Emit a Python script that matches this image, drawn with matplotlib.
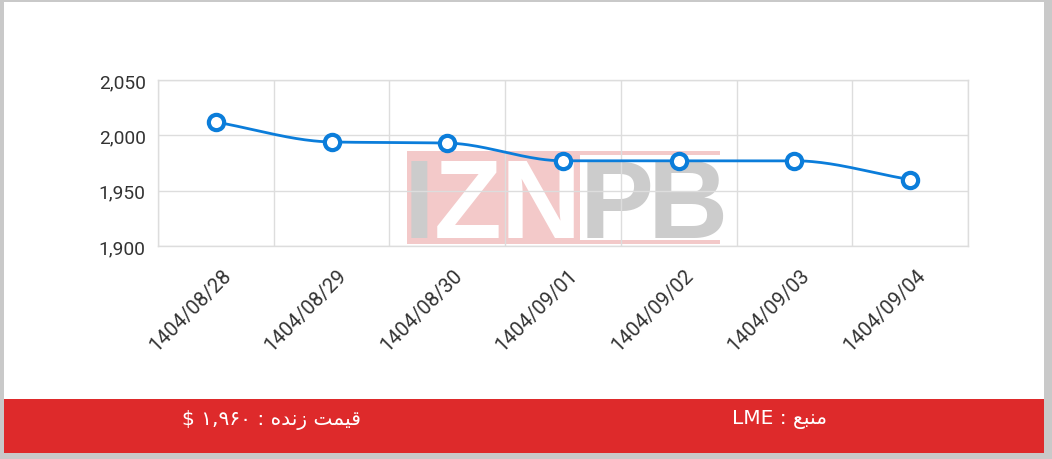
import numpy as np
import matplotlib
matplotlib.use("Agg")
import matplotlib.pyplot as plt
from matplotlib.patches import Rectangle
from matplotlib.transforms import ScaledTranslation

# ---- data ----
dates = ["1404/08/28", "1404/08/29", "1404/08/30", "1404/09/01",
         "1404/09/02", "1404/09/03", "1404/09/04"]
prices = [2012, 1994, 1993, 1977, 1977, 1977, 1960]
y_ticks = [1900, 1950, 2000, 2050]
source_text = "LME : \uFECA\uFE92\uFEE8\uFEE3"                      # منبع : LME
live_text = "$ \u06F1,\u06F9\u06F6\u06F0 : \uFEE9\uFEAA\uFEE7\uFEAF \uFE96\uFEE4\uFEF4\uFED7"  # قیمت زنده : ۱,۹۶۰ $

W, H = 1052, 460
fig = plt.figure(figsize=(W / 100, H / 100), dpi=100)
fig.patch.set_facecolor("#c9c9c9")

def px(x0, y0, x1, y1):
    """pixel box (top-left origin) -> figure fraction (x, y, w, h)"""
    return x0 / W, 1 - y1 / H, (x1 - x0) / W, (y1 - y0) / H

# white card + red footer
x, y, w, h = px(4, 3, 1044, 454)
fig.patches.append(Rectangle((x, y), w, h, transform=fig.transFigure,
                             facecolor="white", edgecolor="none", zorder=-3))
x, y, w, h = px(4, 400, 1044, 454)
fig.patches.append(Rectangle((x, y), w, h, transform=fig.transFigure,
                             facecolor="#de2a2b", edgecolor="none", zorder=-2))

fig.text(780 / W, 1 - 420 / H, source_text, color="white", fontsize=14.5,
         ha="center", va="center", family=["DejaVu Sans"])
fig.text(271 / W, 1 - 420 / H, live_text, color="white", fontsize=14.5,
         ha="center", va="center", family=["DejaVu Sans"])

# ---- axes ----
ax = fig.add_axes([158 / W, 1 - 247 / H, (968 - 158) / W, (247 - 81) / H])
ax.set_facecolor("none")

# watermark (behind grid)
wm_zorder = 0.1
for (x0, y0, x1, y1) in [(407, 152, 580, 245), (580, 152, 720, 156), (580, 241, 720, 245)]:
    x, y, w, h = px(x0, y0, x1, y1)
    ax.add_patch(Rectangle((x, y), w, h, transform=fig.transFigure,
                           facecolor="#f3c9c9", edgecolor="none",
                           zorder=wm_zorder, clip_on=False))
for letter, cx, col in [("I", 419, "#cccccc"), ("Z", 468, "white"), ("N", 541, "white"),
                        ("P", 617, "#cccccc"), ("B", 688, "#cccccc")]:
    ax.text(cx / W, 1 - 238 / H, letter, transform=fig.transFigure, ha="center",
            va="baseline", fontsize=80, fontweight="heavy", family="Liberation Sans",
            color=col, zorder=wm_zorder + 0.01, clip_on=False)

# monotone cubic (Fritsch-Carlson) smoothing for the drawn line
xs = np.arange(len(prices), dtype=float)
ys = np.array(prices, dtype=float)
d = np.diff(ys) / np.diff(xs)
m = np.zeros_like(ys)
m[0], m[-1] = d[0], d[-1]
for i in range(1, len(ys) - 1):
    m[i] = 0 if d[i - 1] * d[i] <= 0 else 2 / (1 / d[i - 1] + 1 / d[i])
xx, yy = [], []
for i in range(len(ys) - 1):
    t = np.linspace(0, 1, 40)
    h00 = 2 * t**3 - 3 * t**2 + 1
    h10 = t**3 - 2 * t**2 + t
    h01 = -2 * t**3 + 3 * t**2
    h11 = t**3 - t**2
    xx.extend(xs[i] + t)
    yy.extend(h00 * ys[i] + h10 * m[i] + h01 * ys[i + 1] + h11 * m[i + 1])

blue = "#0b7dda"
ax.plot(xx, yy, color=blue, lw=2, zorder=3)
ax.plot(xs, ys, ls="none", marker="o", ms=11, mfc="white", mec=blue, mew=3, zorder=4)

ax.set_xlim(-0.5, len(prices) - 0.5)
ax.set_ylim(1900, 2050)
ax.set_yticks(y_ticks)
ax.set_yticklabels([f"{v:,}" for v in y_ticks])
ax.set_xticks(xs)
ax.set_xticklabels(dates)
ax.set_xticks(np.arange(-0.5, len(prices), 1.0), minor=True)

ax.set_axisbelow(True)
ax.grid(False)
ax.grid(axis="y", which="major", color="#dddddd", lw=1, zorder=0.5)
ax.grid(axis="x", which="minor", color="#dddddd", lw=1, zorder=0.5)
for s in ax.spines.values():
    s.set_color("#dddddd")
    s.set_linewidth(1)
ax.tick_params(which="both", length=0)
ax.tick_params(axis="y", pad=9, labelsize=13.8, labelcolor="#333333")
ax.tick_params(axis="x", pad=0, labelsize=14.5, labelcolor="#333333")
for lab in ax.get_yticklabels():
    lab.set_family("Roboto")
for lab in ax.get_xticklabels():
    lab.set_family("Roboto")
    lab.set_rotation(45)
    lab.set_ha("right")
    lab.set_va("center")
    lab.set_rotation_mode("anchor")
    lab.set_transform(lab.get_transform() +
                      ScaledTranslation(12 / 100, -26 / 100, fig.dpi_scale_trans))

fig.savefig("out.png", dpi=100, facecolor=fig.get_facecolor())
